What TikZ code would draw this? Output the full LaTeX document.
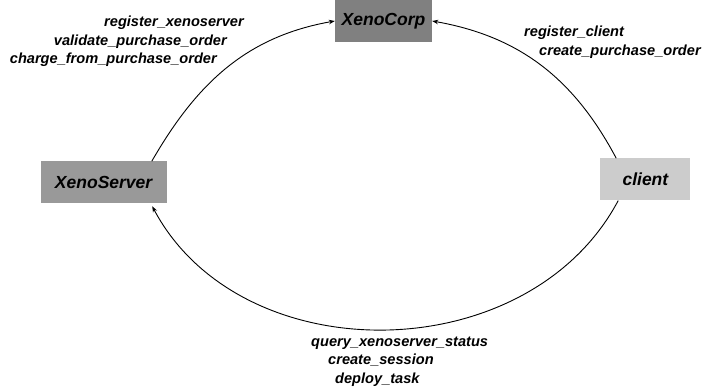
\documentclass[tikz,border=0pt]{standalone}
\usepackage{fontspec}
\setmainfont{Liberation Sans}
\usetikzlibrary{positioning,arrows.meta}
\begin{document}
\begin{tikzpicture}[x=1pt, y=1pt,
  main/.style = {minimum height=42pt, inner sep=0pt, font=\fontsize{17.5}{21}\selectfont\bfseries\itshape},
  call/.style = {inner sep=0pt, font=\fontsize{14.6}{18.5}\selectfont\bfseries\itshape},
  flow/.style = {line width=0.9pt, -{Stealth[length=6pt,width=4.5pt]}}]
\useasboundingbox (0,0) rectangle (703,-387);
\node[main, fill=black!50, minimum width=97pt] (corp) at (383.5,-21) {XenoCorp};
\node[main, fill=black!40, minimum width=126pt] (srv) [below left=119pt and 168pt of corp] {XenoServer};
\node[main, fill=black!20, minimum width=90pt] (cli) [below right=116pt and 168pt of corp] {client};

\node[call, anchor=base east] (s1) at (244,-27) {register\_xenoserver};
\node[call, anchor=base east] (s2) at (227,-45.5) {validate\_purchase\_order};
\node[call, anchor=base east] (s3) at (217,-64) {charge\_from\_purchase\_order};
\node[call, anchor=base west] (c1) at (524,-37) {register\_client};
\node[call, anchor=base west] (c2) at (539,-55.5) {create\_purchase\_order};
\node[call, anchor=base west] (q1) at (311,-346) {query\_xenoserver\_status};
\node[call, anchor=base west] (q2) at (328,-364.5) {create\_session};
\node[call, anchor=base west] (q3) at (335,-383) {deploy\_task};

\draw[flow] ([xshift=-15pt]srv.north east) to[out=60, in=190] (corp.west);
\draw[flow] ([xshift=16pt]cli.north west) to[out=118, in=-10] (corp.east);
\draw[flow, shorten >=3pt] ([xshift=18pt]cli.south west) to[out=-118, in=-62, looseness=1.05] ([xshift=-16pt]srv.south east);
\end{tikzpicture}
\end{document}
